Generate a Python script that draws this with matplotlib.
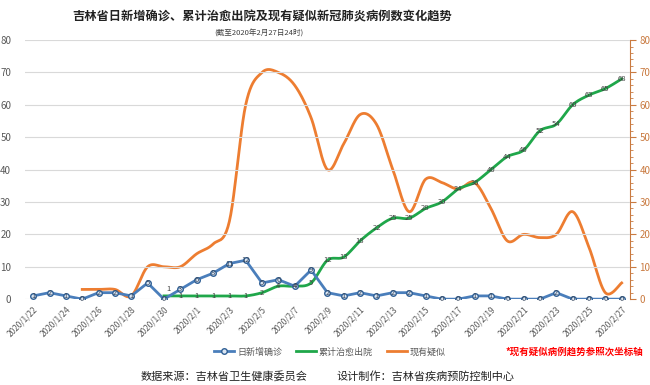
import matplotlib
matplotlib.use('Agg')
import matplotlib.pyplot as plt
from matplotlib.lines import Line2D
from matplotlib.ticker import MultipleLocator
import numpy as np

plt.rcParams['font.family'] = ['Noto Sans CJK SC', 'DejaVu Sans']

# data
dates = ['2020/1/%d' % d for d in range(22, 32)] + ['2020/2/%d' % d for d in range(1, 28)]
new_confirmed = [1, 2, 1, 0, 2, 2, 1, 5, 0, 3, 6, 8, 11, 12, 5, 6, 4, 9, 2, 1, 2, 1, 2, 2, 1,
                 0, 0, 1, 1, 0, 0, 0, 2, 0, 0, 0, 0]
cured_total = [None] * 8 + [1, 1, 1, 1, 1, 1, 2, 4, 4, 5, 12, 13, 18, 22, 25, 25, 28, 30, 34,
                            36, 40, 44, 46, 52, 54, 60, 63, 65, 68]
suspected = [None] * 3 + [3, 3, 3, 1, 10, 10, 10, 14, 17, 24, 60, 70, 70, 66, 56, 40, 48, 57,
                          54, 40, 27, 37, 36, 34, 36, 28, 18, 20, 19, 20, 27, 16, 2, 5]

c_blue = '#4a7ebb'
c_green = '#1fa74a'
c_orange = '#ed7d31'
c_axis2 = '#c97a40'


def smooth(xs, ys, n=24):
    # Excel-like smoothed line (Catmull-Rom as cubic Bezier)
    pts = [(x, y) for x, y in zip(xs, ys) if y is not None]
    p = np.array(pts, dtype=float)
    out = []
    t = np.linspace(0, 1, n)[:, None]
    for i in range(len(p) - 1):
        p0 = p[i - 1] if i > 0 else p[i]
        p1, p2 = p[i], p[i + 1]
        p3 = p[i + 2] if i + 2 < len(p) else p[i + 1]
        c1 = p1 + (p2 - p0) / 6
        c2 = p2 - (p3 - p1) / 6
        seg = ((1 - t) ** 3) * p1 + 3 * ((1 - t) ** 2) * t * c1 + 3 * (1 - t) * t ** 2 * c2 + t ** 3 * p2
        out.append(seg)
    s = np.vstack(out)
    return s[:, 0], s[:, 1]


x = np.arange(len(dates))

fig = plt.figure(figsize=(6.5, 3.85), dpi=100)
ax = fig.add_axes([0.0385, 0.223, 0.9305, 0.673])
ax2 = ax.twinx()

for y in range(10, 81, 10):
    ax.axhline(y, color='#d9d9d9', lw=0.8, zorder=0)
ax.axhline(0, color='#d9d9d9', lw=0.8, zorder=0)

# suspected on secondary axis
sx, sy = smooth(x, suspected)
ax2.plot(sx, sy, color=c_orange, lw=2, zorder=2)

# cured (smoothed)
gx, gy = smooth(x, cured_total)
ax.plot(gx, gy, color=c_green, lw=2, zorder=3)

# daily new confirmed
ax.plot(x, new_confirmed, color=c_blue, lw=2, marker='o', ms=4, mfc='#dbe6f3', mec='#2f5f94',
        mew=1, zorder=4)

first = True
for xi, v in zip(x, cured_total):
    if v is None:
        continue
    # the first green label sits on the blue "0" point, nudge it up-right
    off = (3, 5) if first else (0, 0)
    first = False
    ax.annotate(str(v), (xi, v), xytext=off, textcoords='offset points',
                ha='center', va='center', fontsize=5.5, color='#404040', zorder=6)
for xi, v in zip(x, new_confirmed):
    ax.text(xi, v, str(v), ha='center', va='center', fontsize=5.5, color='#3a4a60', zorder=6)

ax.set_zorder(ax2.get_zorder() + 1)
ax.patch.set_visible(False)

ax.set_xlim(-0.5, 36.5)
ax.set_ylim(0, 80)
ax2.set_ylim(0, 80)
ax.set_yticks(range(0, 81, 10))
ax2.set_yticks(range(0, 81, 10))
ax2.yaxis.set_minor_locator(MultipleLocator(2))

ax.set_xticks(x[::2])
ax.set_xticklabels(dates[::2], rotation=45, ha='right', rotation_mode='anchor',
                   fontsize=6, color='#595959')
ax.tick_params(axis='x', length=0, pad=4)
ax.tick_params(axis='y', length=0, labelsize=7, labelcolor='#595959', pad=10)
ax2.tick_params(axis='y', which='major', length=4, width=0.8, color=c_axis2,
                labelsize=7, labelcolor=c_axis2, pad=3)
ax2.tick_params(axis='y', which='minor', length=2, width=0.6, color=c_axis2)

for sp in ['top', 'left', 'bottom']:
    ax.spines[sp].set_visible(False)
    ax2.spines[sp].set_visible(False)
ax.spines['right'].set_visible(False)
ax2.spines['right'].set_color(c_axis2)
ax2.spines['right'].set_linewidth(0.8)

fig.text(0.403, 0.956, '吉林省日新增确诊、累计治愈出院及现有疑似新冠肺炎病例数变化趋势',
         ha='center', va='center', fontsize=8.8, fontweight='bold', color='#222222')
fig.text(0.398, 0.914, '(截至2020年2月27日24时)', ha='center', va='center',
         fontsize=5.5, color='#404040')

handles = [
    Line2D([], [], color=c_blue, lw=2, marker='o', ms=4, mfc='#dbe6f3', mec='#2f5f94'),
    Line2D([], [], color=c_green, lw=2),
    Line2D([], [], color=c_orange, lw=2),
]
fig.legend(handles, ['日新增确诊', '累计治愈出院', '现有疑似'], loc='center',
           bbox_to_anchor=(0.508, 0.086), ncol=3, frameon=False, fontsize=6.5,
           labelcolor='#595959', handlelength=2.2, handletextpad=0.3, columnspacing=1.6)
fig.text(0.777, 0.086, '*现有疑似病例趋势参照次坐标轴', ha='left', va='center',
         fontsize=6.8, color='#ff0000', fontweight='bold')

fig.text(0.345, 0.023, '数据来源：吉林省卫生健康委员会', ha='center', va='center',
         fontsize=8, color='#222222')
fig.text(0.654, 0.023, '设计制作：吉林省疾病预防控制中心', ha='center', va='center',
         fontsize=8, color='#222222')

fig.savefig('out.png', dpi=100)
plt.close()
